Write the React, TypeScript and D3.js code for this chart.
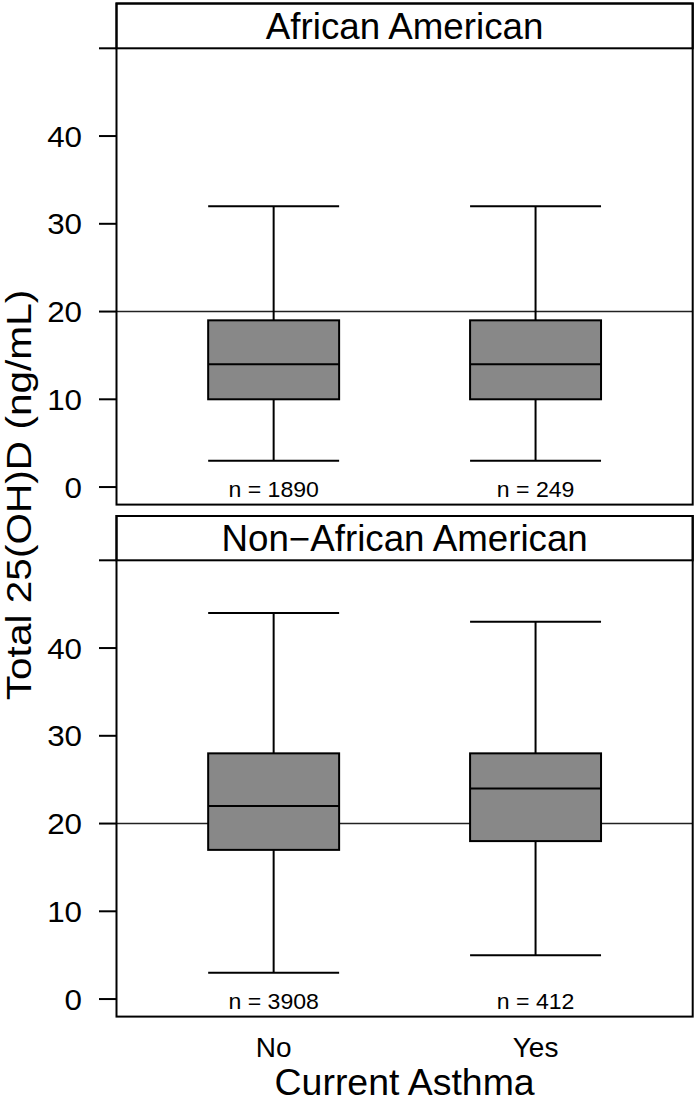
import React, { useEffect, useRef } from 'react';
import * as d3 from 'd3';

const categories = ['No', 'Yes'];
const panelTitles = ['African American', 'Non\u2212African American'];
const yTicks = [0, 10, 20, 30, 40, 50];

// African American
const aaLow = [3, 3];
const aaQ1 = [10, 10];
const aaMed = [14, 14];
const aaQ3 = [19, 19];
const aaHigh = [32, 32];
const aaN = [1890, 249];

// Non-African American
const naLow = [3, 5];
const naQ1 = [17, 18];
const naMed = [22, 24];
const naQ3 = [28, 28];
const naHigh = [44, 43];
const naN = [3908, 412];

const refLine = 20;

const W = 697;
const H = 1104;
const FONT = '"Liberation Sans", Arial, Helvetica, sans-serif';

// text with a slight stretch along the baseline (the reference type is a bit wide)
const addText = (parent, x, y, str, size, anchor = 'middle', sx = 1, rot = 0) =>
  parent.append('text')
    .attr('transform', `translate(${x},${y}) rotate(${rot}) scale(${sx},1)`)
    .attr('text-anchor', anchor)
    .attr('font-family', FONT)
    .attr('font-size', size)
    .text(str);

const App = () => {
  const ref = useRef<SVGSVGElement>(null);

  useEffect(() => {
    const svg = d3.select(ref.current).attr('width', W).attr('height', H);
    svg.selectAll('*').remove();

    const left = 116.5;
    const right = 692.7;
    const x = d3.scaleLinear().domain([0.4, categories.length + 0.6]).range([left, right]);
    const boxW = x(1.25) - x(0.75);

    const panels = [
      { title: panelTitles[0], low: aaLow, q1: aaQ1, med: aaMed, q3: aaQ3, high: aaHigh, n: aaN, top: 3.5, off: 0 },
      { title: panelTitles[1], low: naLow, q1: naQ1, med: naMed, q3: naQ3, high: naHigh, n: naN, top: 516, off: 512 },
    ];

    panels.forEach(p => {
      const y = d3.scaleLinear().domain([-2, 50]).range([504.6 + p.off, 48.3 + p.off]);
      const g = svg.append('g');
      const bottom = y(-2);
      const plotTop = y(50);

      // reference line
      g.append('line')
        .attr('x1', left).attr('x2', right)
        .attr('y1', y(refLine)).attr('y2', y(refLine))
        .attr('stroke', '#222').attr('stroke-width', 1.6);

      categories.forEach((c, i) => {
        const cx = x(i + 1);
        // whiskers
        g.append('line').attr('x1', cx).attr('x2', cx)
          .attr('y1', y(p.q3[i])).attr('y2', y(p.high[i]))
          .attr('stroke', '#000').attr('stroke-width', 2);
        g.append('line').attr('x1', cx).attr('x2', cx)
          .attr('y1', y(p.q1[i])).attr('y2', y(p.low[i]))
          .attr('stroke', '#000').attr('stroke-width', 2);
        [p.high[i], p.low[i]].forEach(v => {
          g.append('line').attr('x1', cx - boxW / 2).attr('x2', cx + boxW / 2)
            .attr('y1', y(v)).attr('y2', y(v))
            .attr('stroke', '#000').attr('stroke-width', 2);
        });
        // box
        g.append('rect')
          .attr('x', cx - boxW / 2).attr('width', boxW)
          .attr('y', y(p.q3[i])).attr('height', y(p.q1[i]) - y(p.q3[i]))
          .attr('fill', '#888').attr('stroke', '#000').attr('stroke-width', 2);
        g.append('line').attr('x1', cx - boxW / 2).attr('x2', cx + boxW / 2)
          .attr('y1', y(p.med[i])).attr('y2', y(p.med[i]))
          .attr('stroke', '#000').attr('stroke-width', 2);
        // n label
        addText(g, cx, bottom - 8, `n = ${p.n[i]}`, 22, 'middle', 1.05);
      });

      // strip
      g.append('rect')
        .attr('x', left).attr('y', p.top)
        .attr('width', right - left).attr('height', plotTop - p.top)
        .attr('fill', '#fff').attr('stroke', '#000').attr('stroke-width', 2);
      addText(g, (left + right) / 2, p.top + 35, p.title, 36, 'middle', 1.02);

      // panel border
      g.append('rect')
        .attr('x', left).attr('y', p.top)
        .attr('width', right - left).attr('height', bottom - p.top)
        .attr('fill', 'none').attr('stroke', '#000').attr('stroke-width', 2);

      // y ticks
      yTicks.forEach(t => {
        g.append('line')
          .attr('x1', 99).attr('x2', left)
          .attr('y1', y(t)).attr('y2', y(t))
          .attr('stroke', '#000').attr('stroke-width', 2);
        if (t < 50) addText(g, 82, y(t) + 10.5, t, 29, 'end', 1.08);
      });
    });

    // x category labels
    categories.forEach((c, i) => {
      addText(svg, x(i + 1), 1056.5, c, 28);
    });

    addText(svg, (left + right) / 2, 1095, 'Current Asthma', 36, 'middle', 1.04);
    addText(svg, 31, 495, 'Total 25(OH)D (ng/mL)', 35, 'middle', 1.16, -90);
  }, []);

  return <svg ref={ref} style={{ position: 'absolute', left: 0, top: 0 }}></svg>;
};

export default App;
